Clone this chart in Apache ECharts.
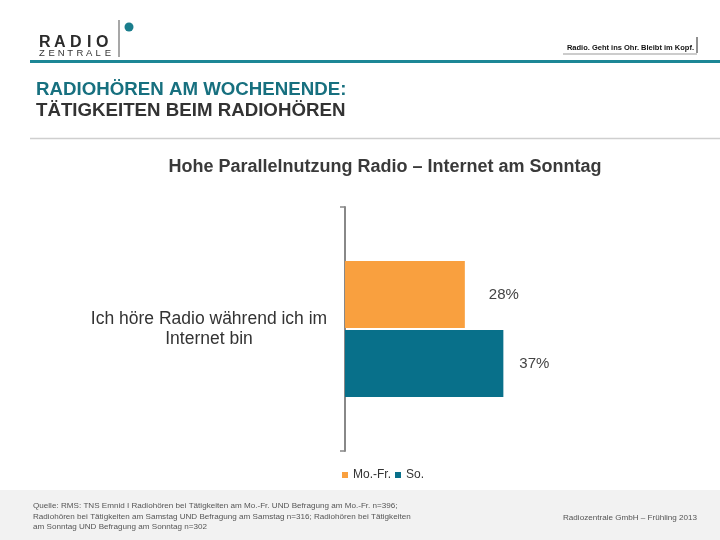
<!DOCTYPE html>
<html>
<head>
<meta charset="utf-8">
<script src="https://cdn.jsdelivr.net/npm/echarts@6/dist/echarts.min.js"></script>
<style>html,body{margin:0;padding:0;background:#fff}#c{width:720px;height:540px}</style>
</head>
<body>
<div id="c"></div>
<script>
const categories = ['Ich höre Radio während ich im\nInternet bin'];
const seriesNames = ['Mo.-Fr.', 'So.'];
const valuesMoFr = [28];
const valuesSo = [37];
const chartTitle = 'Hohe Parallelnutzung Radio – Internet am Sonntag';
const headLine1 = 'RADIOHÖREN AM WOCHENENDE:';
const headLine2 = 'TÄTIGKEITEN BEIM RADIOHÖREN';
const sourceLines = [
  'Quelle: RMS: TNS Emnid I Radiohören bei Tätigkeiten am Mo.-Fr. UND Befragung am Mo.-Fr. n=396;',
  'Radiohören bei Tätigkeiten am Samstag UND Befragung am Samstag n=316; Radiohören bei Tätigkeiten',
  'am Sonntag UND Befragung am Sonntag n=302'
];
const footerRight = 'Radiozentrale GmbH – Frühling 2013';
const tagline = 'Radio. Geht ins Ohr. Bleibt im Kopf.';

const FONT = "'Liberation Sans', Arial, sans-serif";
const chart = echarts.init(document.getElementById('c'));

const graphics = [];
graphics.push({type:'rect', left:0, top:490, shape:{width:720, height:50}, style:{fill:'#f2f2f2'}, z:-10});
graphics.push({type:'rect', left:30, top:60, shape:{width:690, height:3}, style:{fill:'#1d8796'}});
const radioLetters = [['R',39],['A',54],['D',70],['I',87],['O',96]];
radioLetters.forEach(([ch,x]) => graphics.push({type:'text', left:x, top:35, style:{text:ch, font:'bold 16px '+FONT, fill:'#2b2b2b'}}));
'ZENTRALE'.split('').forEach((ch,i) => graphics.push({type:'text', left:39 + i*9.4, top:48.5, style:{text:ch, font:'9.5px '+FONT, fill:'#333'}}));
graphics.push({type:'line', shape:{x1:119, y1:20, x2:119, y2:57}, style:{stroke:'#8a8a8a', lineWidth:1.5}});
graphics.push({type:'circle', shape:{cx:129, cy:27, r:4.5}, style:{fill:'#1a7d8c'}});
graphics.push({type:'text', right:26, top:44, style:{text:tagline, font:'bold 7.5px '+FONT, fill:'#111'}});
graphics.push({type:'line', shape:{x1:697, y1:37, x2:697, y2:53}, style:{stroke:'#222', lineWidth:1}});
graphics.push({type:'line', shape:{x1:563, y1:54, x2:697, y2:54}, style:{stroke:'#999', lineWidth:1}});
graphics.push({type:'text', left:36, top:80, style:{text:headLine1, font:'bold 18.7px '+FONT, fill:'#17707f'}});
graphics.push({type:'text', left:36, top:101, style:{text:headLine2, font:'bold 18.7px '+FONT, fill:'#333'}});
graphics.push({type:'line', shape:{x1:30, y1:138.5, x2:720, y2:138.5}, style:{stroke:'#cfcfcf', lineWidth:1.5}});
sourceLines.forEach((t,i) => graphics.push({type:'text', left:33, top:502 + i*10.5, style:{text:t, font:'8.1px '+FONT, fill:'#555'}}));
graphics.push({type:'text', left:563, top:514, style:{text:footerRight, font:'8.1px '+FONT, fill:'#555'}});

chart.setOption({
  animation:false,
  backgroundColor:'#fff',
  title:{text:chartTitle, left:380, textAlign:'center', top:153, textStyle:{fontFamily:FONT, fontSize:18, fontWeight:'bold', color:'#3a3a3a'}},
  legend:{data:seriesNames, left:342, top:469, padding:0, icon:'rect', itemWidth:6, itemHeight:6, itemGap:4, textStyle:{fontFamily:FONT, fontSize:12, color:'#333'}},
  grid:{left:345, top:207, width:214, height:244, containLabel:false},
  xAxis:{type:'value', min:0, max:50, show:false},
  yAxis:{type:'category', data:categories, inverse:true,
    axisLine:{show:true, lineStyle:{color:'#888', width:2}},
    axisTick:{show:true, length:5, lineStyle:{color:'#888', width:1.5}},
    axisLabel:{align:'center', margin:136, fontFamily:FONT, fontSize:17.5, color:'#333', lineHeight:20}},
  series:[
    {name:seriesNames[0], type:'bar', data:valuesMoFr, barWidth:67, barGap:'3%', itemStyle:{color:'#f9a03f'},
     label:{show:true, position:'right', distance:24, formatter:'{c}%', fontFamily:FONT, fontSize:15, color:'#444'}},
    {name:seriesNames[1], type:'bar', data:valuesSo, barWidth:67, itemStyle:{color:'#08708a'},
     label:{show:true, position:'right', distance:16, formatter:'{c}%', fontFamily:FONT, fontSize:15, color:'#444'}}
  ],
  graphic:graphics
});
</script>
</body>
</html>
